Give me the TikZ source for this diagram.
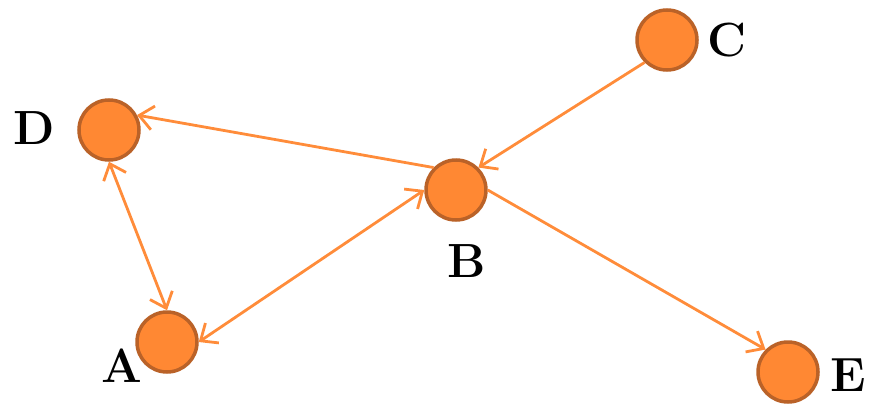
\documentclass[tikz,border=0pt]{standalone}
\usetikzlibrary{arrows.meta}
\definecolor{nodefill}{HTML}{FF8833}
\definecolor{nodeborder}{HTML}{BA6228}
\definecolor{edgecol}{HTML}{FF8C3A}
\begin{document}
\begin{tikzpicture}[x=1pt,y=-1pt,
  vtx/.style={circle,draw=nodeborder,fill=nodefill,line width=3.5pt,minimum size=60pt,inner sep=0pt},
  lbl/.style={font=\fontsize{48}{48}\selectfont\bfseries,inner sep=0pt},
  edge/.style={draw=edgecol,line width=2.8pt,-{Straight Barb[length=14pt,width=24pt,line width=2.8pt]}},
  bedge/.style={edge,{Straight Barb[length=14pt,width=24pt,line width=2.8pt]}-{Straight Barb[length=14pt,width=24pt,line width=2.8pt]}}]
\useasboundingbox (0,0) rectangle (874,404);
\node[vtx] (C) at (667,40) {};
\node[vtx] (D) at (109,130) {};
\node[vtx] (B) at (456,190) {};
\node[vtx] (A) at (167,342) {};
\node[vtx] (E) at (788,372) {};
\node[lbl] (lC) at (727,40) {C};
\node[lbl] (lD) at (34,128) {D};
\node[lbl] (lB) at (467,261) {B};
\node[lbl] (lA) at (122,366) {A};
\node[lbl] (lE) at (848,375) {E};
\draw[edge] (C.south west) -- (B.north east);
\draw[edge] (B.north west) -- (D.28);
\draw[bedge] (D.south) -- (A.north);
\draw[bedge] (A.east) -- (B.west);
\draw[edge] (B.east) -- (E.north west);
\end{tikzpicture}
\end{document}
